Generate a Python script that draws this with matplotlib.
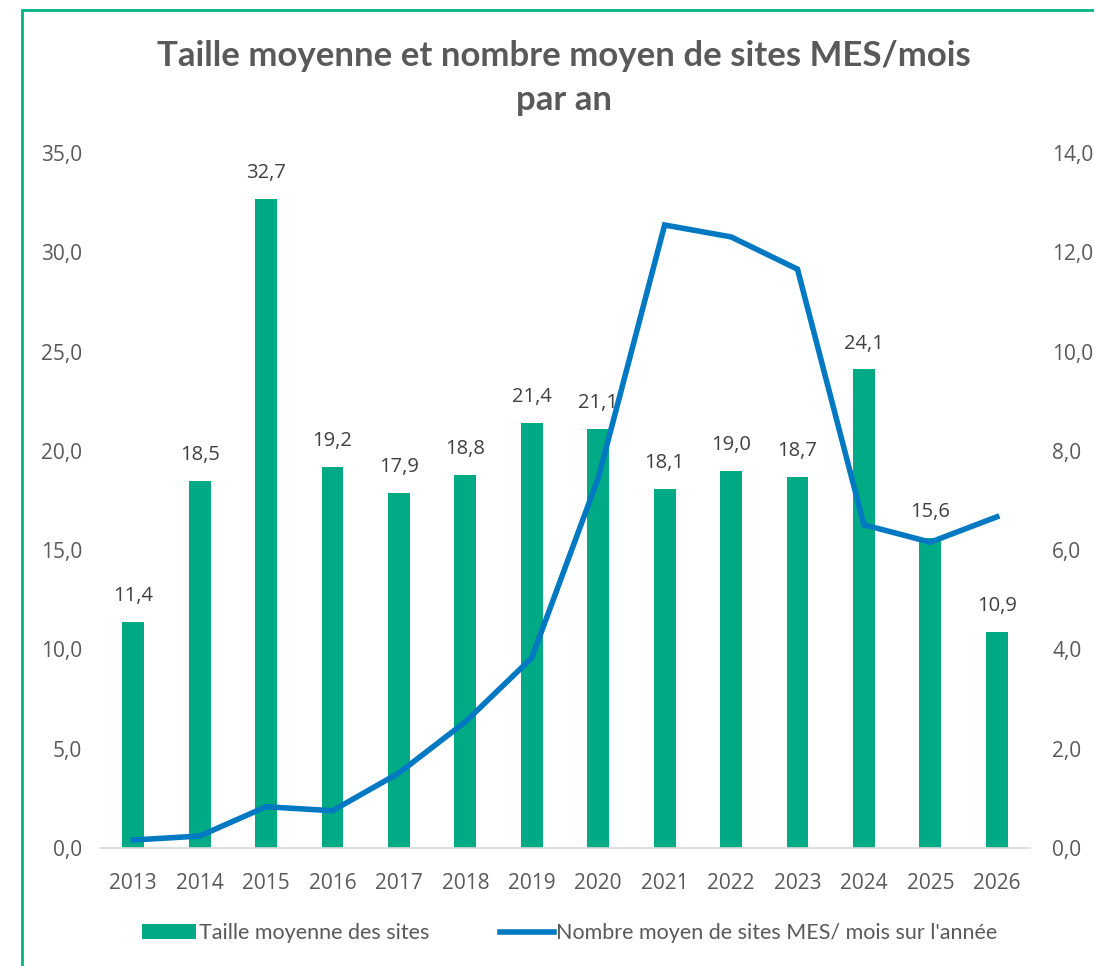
import matplotlib.pyplot as plt
from matplotlib.patches import Rectangle
from matplotlib.ticker import FuncFormatter

years = ["2013", "2014", "2015", "2016", "2017", "2018", "2019",
         "2020", "2021", "2022", "2023", "2024", "2025", "2026"]
taille = [11.4, 18.5, 32.7, 19.2, 17.9, 18.8, 21.4,
          21.1, 18.1, 19.0, 18.7, 24.1, 15.6, 10.9]
nombre = [0.16, 0.24, 0.83, 0.75, 1.51, 2.54, 3.83,
          7.45, 12.55, 12.31, 11.66, 6.51, 6.16, 6.67]

green = "#00AA85"
blue = "#0079C2"
grey = "#595959"

fig = plt.figure(figsize=(10.94, 9.66), dpi=100)
ax = fig.add_axes([0.0914, 0.1222, 0.8501, 0.7194])
x = list(range(len(years)))

bars = ax.bar(x, taille, width=0.33, color=green, zorder=2, label="Taille moyenne des sites")
for xi, v in zip(x, taille):
    ax.text(xi, v + 0.8, ("%.1f" % v).replace(".", ","), ha="center", va="bottom",
            fontsize=14.5, color="#404040", family="Open Sans")

ax.set_xlim(-0.5, 13.5)
ax.set_ylim(0, 35)
ax.set_yticks([0, 5, 10, 15, 20, 25, 30, 35])
ax.set_xticks(x)
ax.set_xticklabels(years)
comma = FuncFormatter(lambda v, p: ("%.1f" % v).replace(".", ","))
ax.yaxis.set_major_formatter(comma)
for s in ["top", "left", "right"]:
    ax.spines[s].set_visible(False)
ax.spines["bottom"].set_color("#D9D9D9")
ax.spines["bottom"].set_linewidth(1.2)
ax.tick_params(axis="y", length=0, pad=13, labelsize=15, labelcolor=grey)
ax.tick_params(axis="x", length=0, pad=18, labelsize=15, labelcolor=grey)
for lab in ax.get_xticklabels() + ax.get_yticklabels():
    lab.set_family("Open Sans")

ax2 = ax.twinx()
ax2.plot(x, nombre, color=blue, linewidth=4, solid_joinstyle="miter",
         label="Nombre moyen de sites MES/ mois sur l'année")
ax2.set_ylim(0, 14)
ax2.set_yticks([0, 2, 4, 6, 8, 10, 12, 14])
ax2.yaxis.set_major_formatter(comma)
for s in ["top", "left", "right", "bottom"]:
    ax2.spines[s].set_visible(False)
ax2.tick_params(axis="y", length=0, pad=16, labelsize=15, labelcolor=grey)
for lab in ax2.get_yticklabels():
    lab.set_family("Open Sans")

fig.text(0.5155, 0.919, "Taille moyenne et nombre moyen de sites MES/mois\npar an",
         ha="center", va="center", fontsize=25, fontweight="bold", color=grey,
         family="Lato", linespacing=1.45)

h1, l1 = ax.get_legend_handles_labels()
h2, l2 = ax2.get_legend_handles_labels()
fig.legend(h1 + h2, l1 + l2, loc="center", bbox_to_anchor=(0.521, 0.034), ncol=2,
           frameon=False, prop={"family": "Lato", "size": 15.5}, labelcolor=grey,
           handlelength=2.5, handletextpad=0.12, columnspacing=3.3)

fig.patches.append(Rectangle((0.02, -0.05), 1.05, 1.04, transform=fig.transFigure,
                             fill=False, edgecolor="#00B386", linewidth=2))

fig.savefig("out.png", dpi=100)
